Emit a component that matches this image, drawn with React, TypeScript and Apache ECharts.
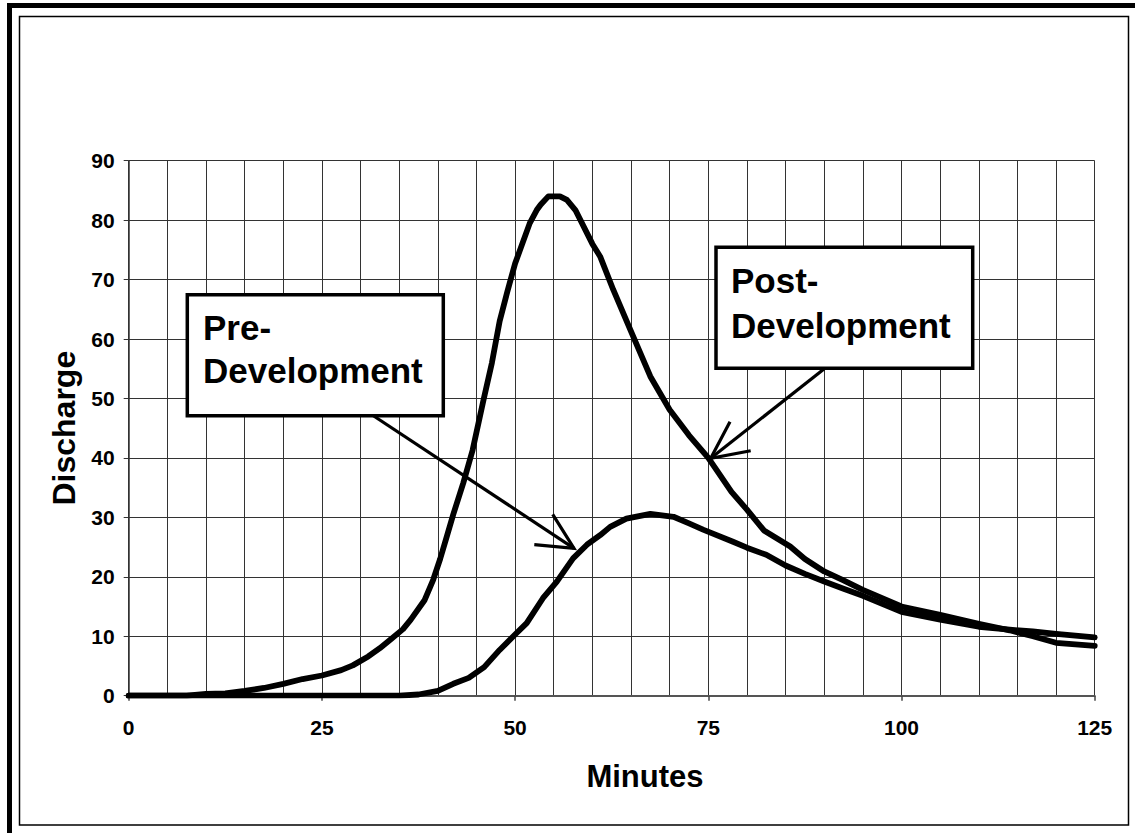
import React, { useEffect, useRef } from "react";
import * as echarts from "echarts";

// Post-development hydrograph (minutes, discharge)
const postMinutes = [0, 7.5, 10, 12.5, 15, 17.5, 20, 22.5, 25, 27.5, 29, 31, 32.5, 34, 35.5, 36.5, 38.3, 39.4, 40.3, 41.1, 42, 43.3, 44.5, 45.9, 47, 48, 49, 50, 51.9, 52.8, 53.3, 54.3, 55.8, 56.7, 57.8, 60, 61, 62.7, 65, 67.5, 70, 72.5, 75, 78, 80, 82.2, 85.6, 87.5, 90, 92.5, 95, 100, 105, 110, 114, 117, 120, 125];
const postDischarge = [0, 0, 0.3, 0.4, 0.8, 1.3, 2.0, 2.8, 3.4, 4.3, 5.1, 6.6, 8.0, 9.6, 11.2, 12.8, 16.1, 19.5, 23.0, 26.5, 30.5, 35.8, 41.3, 49.7, 56.0, 63.0, 68.0, 72.7, 79.5, 81.7, 82.6, 84.0, 84.0, 83.4, 81.7, 76.0, 73.9, 68.3, 61.3, 53.7, 48.1, 43.8, 40.0, 34.3, 31.3, 27.8, 25.1, 23.0, 20.9, 19.4, 17.8, 15.0, 13.6, 12.1, 11.0, 10.0, 8.9, 8.4];

// Pre-development hydrograph (minutes, discharge)
const preMinutes = [0, 35, 37.5, 40, 42, 44, 46, 48, 50, 51.5, 53.6, 55.4, 57.5, 59.3, 61, 62.3, 64.4, 67.5, 70.5, 72.5, 74.4, 78.2, 80, 82.5, 85, 87.5, 90, 92.5, 95, 100, 105, 110, 114, 117, 120, 125];
const preDischarge = [0, 0, 0.2, 0.8, 2.0, 3.0, 4.8, 7.7, 10.3, 12.2, 16.4, 19.2, 23.1, 25.4, 27.0, 28.4, 29.8, 30.6, 30.1, 29.0, 27.9, 25.9, 24.9, 23.7, 21.9, 20.5, 19.2, 18.0, 16.8, 14.1, 12.8, 11.6, 11.1, 10.8, 10.4, 9.8];

const xMin = 0;
const xMax = 125;
const xGridStep = 5;
const xLabelStep = 25;
const yMin = 0;
const yMax = 90;
const yStep = 10;

const FONT = '"Liberation Sans", Arial, Helvetica, sans-serif';

export default function App() {
  const ref = useRef<HTMLDivElement>(null);

  useEffect(() => {
    if (!ref.current) return;
    const chart = echarts.init(ref.current, undefined, { renderer: "svg" });

    const postData = postMinutes.map((m, i) => [m, postDischarge[i]]);
    const preData = preMinutes.map((m, i) => [m, preDischarge[i]]);

    const labelStyle = { color: "#000", fontWeight: "bold" as const, fontSize: 21, fontFamily: FONT };
    const boxFont = `bold 35px ${FONT}`;

    const option: any = {
      animation: false,
      backgroundColor: "#fff",
      grid: { left: 128.7, right: 40.3, top: 160.7, bottom: 137.3, containLabel: false },
      xAxis: [
        {
          type: "value",
          min: xMin,
          max: xMax,
          interval: xGridStep,
          axisLine: { show: true, onZero: false, lineStyle: { color: "#555", width: 2 } },
          axisTick: { show: false },
          axisLabel: { show: false },
          splitLine: { show: true, lineStyle: { color: "#333", width: 1 } },
        },
        {
          type: "value",
          position: "bottom",
          min: xMin,
          max: xMax,
          interval: xLabelStep,
          axisLine: { show: false },
          axisTick: { show: true, inside: false, length: 5, lineStyle: { color: "#444", width: 1.5 } },
          axisLabel: { ...labelStyle, margin: 21 },
          splitLine: { show: false },
        },
      ],
      yAxis: {
        type: "value",
        min: yMin,
        max: yMax,
        interval: yStep,
        axisLine: { show: true, lineStyle: { color: "#333", width: 1.5 } },
        axisTick: { show: true, length: 5, lineStyle: { color: "#333", width: 1 } },
        axisLabel: { ...labelStyle, margin: 14 },
        splitLine: { show: true, lineStyle: { color: "#333", width: 1 } },
        name: "Discharge",
        nameLocation: "middle",
        nameGap: 49,
        nameTextStyle: { color: "#000", fontWeight: "bold", fontSize: 32, fontFamily: FONT },
      },
      series: [
        {
          name: "Post-Development",
          type: "line",
          xAxisIndex: 0,
          data: postData,
          showSymbol: false,
          symbol: "none",
          lineStyle: { color: "#000", width: 5.8, join: "round", cap: "round" },
          z: 5,
        },
        {
          name: "Pre-Development",
          type: "line",
          xAxisIndex: 0,
          data: preData,
          showSymbol: false,
          symbol: "none",
          lineStyle: { color: "#000", width: 5.8, join: "round", cap: "round" },
          z: 5,
        },
      ],
      graphic: [
        // frame
        { type: "rect", z: 1, shape: { x: 7, y: 3, width: 1128, height: 5 }, style: { fill: "#000" } },
        { type: "rect", z: 1, shape: { x: 7, y: 3, width: 5, height: 830 }, style: { fill: "#000" } },
        { type: "rect", z: 1, shape: { x: 19.5, y: 16.5, width: 1109, height: 808.5 }, style: { fill: "none", stroke: "#000", lineWidth: 1.5 } },
        // x-axis title
        { type: "text", z: 50, x: 645, y: 776, style: { text: "Minutes", fill: "#000", font: `bold 31px ${FONT}`, verticalAlign: "middle", align: "center" } },
        // Pre-development callout
        { type: "line", z: 100, shape: { x1: 373, y1: 415.5, x2: 574, y2: 548.3 }, style: { stroke: "#000", lineWidth: 3.2 } },
        { type: "polyline", z: 100, shape: { points: [[552.7, 514.3], [574, 548.3], [534.3, 544.7]] }, style: { stroke: "#000", lineWidth: 3.2, fill: "none", lineJoin: "miter" } },
        { type: "rect", z: 101, shape: { x: 187.3, y: 294.7, width: 256, height: 121 }, style: { fill: "#fff", stroke: "#000", lineWidth: 3.5 } },
        { type: "text", z: 102, x: 203, y: 327, style: { text: "Pre-", fill: "#000", font: boxFont, verticalAlign: "middle", align: "left" } },
        { type: "text", z: 102, x: 203, y: 370, style: { text: "Development", fill: "#000", font: boxFont, verticalAlign: "middle", align: "left" } },
        // Post-development callout
        { type: "line", z: 100, shape: { x1: 824, y1: 369, x2: 710.7, y2: 458.3 }, style: { stroke: "#000", lineWidth: 3.2 } },
        { type: "polyline", z: 100, shape: { points: [[730, 421.7], [710.7, 458.3], [750.7, 450.7]] }, style: { stroke: "#000", lineWidth: 3.2, fill: "none", lineJoin: "miter" } },
        { type: "rect", z: 101, shape: { x: 716, y: 247.3, width: 256.7, height: 121 }, style: { fill: "#fff", stroke: "#000", lineWidth: 3.5 } },
        { type: "text", z: 102, x: 731, y: 280.5, style: { text: "Post-", fill: "#000", font: boxFont, verticalAlign: "middle", align: "left" } },
        { type: "text", z: 102, x: 731, y: 325.5, style: { text: "Development", fill: "#000", font: boxFont, verticalAlign: "middle", align: "left" } },
      ],
    };

    chart.setOption(option);
    return () => chart.dispose();
  }, []);

  return (
    <div
      ref={ref}
      style={{ position: "absolute", left: 0, top: 0, width: 1135, height: 833, background: "#fff" }}
    />
  );
}
